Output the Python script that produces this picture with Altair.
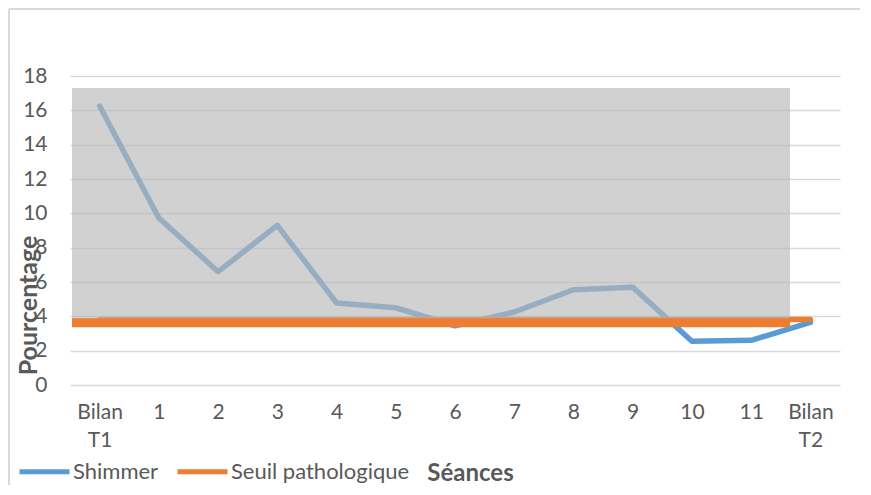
import altair as alt
import pandas as pd

seances = ["Bilan T1", "1", "2", "3", "4", "5", "6", "7", "8", "9", "10", "11", "Bilan T2"]
shimmer = [16.25, 9.73, 6.6, 9.3, 4.78, 4.5, 3.45, 4.25, 5.55, 5.7, 2.55, 2.6, 3.65]
seuil = [3.81] * 13
series_names = ["Shimmer", "Seuil pathologique"]
series_colors = ["#5b9bd5", "#ed7d31"]
y_ticks = [0, 2, 4, 6, 8, 10, 12, 14, 16, 18]

rows = []
for s, v in zip(seances, shimmer):
    rows.append({"Séances": s, "Pourcentage": v, "serie": "Shimmer"})
for s, v in zip(seances, seuil):
    rows.append({"Séances": s, "Pourcentage": v, "serie": "Seuil pathologique"})
df = pd.DataFrame(rows)

FONT = "Lato"
TXT = "#595959"
yscale = alt.Scale(domain=[0, 18], nice=False)
yaxis = alt.Axis(title="Pourcentage", values=y_ticks, domain=False,
                 ticks=False, labelPadding=23, labelFontSize=21, labelColor=TXT,
                 labelFont=FONT, gridColor="#d9d9d9", gridWidth=1.5,
                 labelOverlap=False, labelFlush=False,
                 titleFont=FONT, titleFontSize=25, titleFontWeight="bold",
                 titleColor=TXT, titleAngle=270, titleX=-42, titleY=229,
                 titleAlign="center", titleBaseline="middle")

xenc = alt.X("Séances:N", sort=seances,
             scale=alt.Scale(type="point", padding=0.5),
             axis=alt.Axis(title="Séances", labelAngle=0, domain=False, ticks=False,
                           labelExpr="split(datum.label, ' ')", labelLineHeight=28,
                           labelPadding=16, labelFontSize=21, labelColor=TXT, labelFont=FONT,
                           labelOverlap=False,
                           titleFont=FONT, titleFontSize=24, titleFontWeight="bold",
                           titleColor=TXT, titleX=400, titleY=88, titleAlign="center",
                           titleBaseline="middle", grid=False))
yenc = alt.Y("Pourcentage:Q", scale=yscale, axis=yaxis)

color = alt.Color("serie:N", scale=alt.Scale(domain=series_names, range=series_colors),
                  legend=alt.Legend(title=None, orient="none", legendX=-53, legendY=368,
                                    direction="horizontal", symbolType="stroke",
                                    symbolSize=2500, symbolStrokeWidth=5,
                                    labelFont=FONT, labelFontSize=22, labelColor=TXT,
                                    labelOffset=1, columnPadding=8, labelLimit=400))

lines = alt.Chart(df).mark_line(strokeWidth=5.5, strokeCap="round", strokeJoin="round").encode(
    x=xenc, y=yenc, color=color
)

rect_df = pd.DataFrame({"top": [17.3], "bottom": [3.75]})
overlay = alt.Chart(rect_df).mark_rect(color="#b9b9b9", opacity=0.65).encode(
    x=alt.value(2), x2=alt.value(720),
    y=alt.Y("top:Q", scale=yscale, axis=yaxis), y2="bottom:Q"
)
orange_bar = alt.Chart(pd.DataFrame({"v": [3.63]})).mark_rule(
    color="#ed7d31", strokeWidth=9, strokeCap="butt").encode(
    y=alt.Y("v:Q", scale=yscale, axis=yaxis), x=alt.value(2), x2=alt.value(720)
)
border = alt.Chart(pd.DataFrame({"a": [0]})).mark_rule(color="#d9d9d9", strokeWidth=2).encode(
    x=alt.value(-61), y=alt.value(-67), y2=alt.value(420)
)
border_top = alt.Chart(pd.DataFrame({"a": [0]})).mark_rule(color="#d9d9d9", strokeWidth=2).encode(
    x=alt.value(-61), x2=alt.value(790), y=alt.value(-67)
)

chart = alt.layer(lines, overlay, orange_bar, border, border_top).properties(
    width=770, height=309,
    background="white",
    autosize=alt.AutoSizeParams(type="none"),
    padding={"left": 62, "top": 68, "right": 20, "bottom": 100},
).configure_view(stroke=None)

chart.save("out.html", embed_options={"renderer": "svg", "actions": False})
